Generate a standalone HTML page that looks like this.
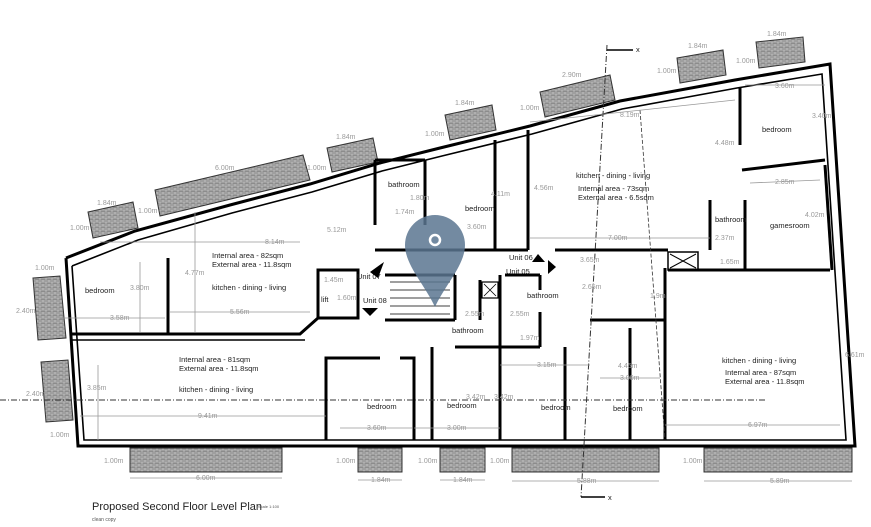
<!DOCTYPE html>
<html><head><meta charset="utf-8"><style>
html,body{margin:0;padding:0;background:#fff;}
svg{display:block;font-family:"Liberation Sans",sans-serif;}
.w{fill:none;stroke:#000;stroke-width:3;stroke-linejoin:miter}
.w2{fill:none;stroke:#000;stroke-width:1.6}
.d{stroke:#999;stroke-width:0.8;fill:none}
.dt{fill:#999;font-size:7px}
.t{fill:#222;font-size:7.5px}
.h{fill:url(#hatch);stroke:#333;stroke-width:1}
</style></head><body>
<svg width="871" height="527" viewBox="0 0 871 527">
<defs>
<pattern id="hatch" width="6" height="4" patternUnits="userSpaceOnUse">
<rect width="6" height="4" fill="#8c8c8c"/>
<path d="M0 0H6M0 2H6M1 0V2M4 2V4" stroke="#d8d8d8" stroke-width="0.6"/>
</pattern>
</defs>

<!-- balconies -->
<polygon class="h" points="88,212 133,202 138,228 93,238"/>
<polygon class="h" points="155,190 303,155 310,180 160,216"/>
<polygon class="h" points="327,148 373,138 378,162 332,172"/>
<polygon class="h" points="445,115 492,105 496,130 450,140"/>
<polygon class="h" points="540,92 610,75 615,100 545,117"/>
<polygon class="h" points="677,58 723,50 726,75 680,83"/>
<polygon class="h" points="756,42 803,37 805,62 759,68"/>
<polygon class="h" points="33,278 60,276 66,338 38,340"/>
<polygon class="h" points="41,362 68,360 73,420 46,422"/>
<rect class="h" x="130" y="448" width="152" height="24"/>
<rect class="h" x="358" y="448" width="44" height="24"/>
<rect class="h" x="440" y="448" width="45" height="24"/>
<rect class="h" x="512" y="448" width="147" height="24"/>
<rect class="h" x="704" y="448" width="148" height="24"/>

<!-- outer walls -->
<polyline class="w" points="66,258 135,231 230,205 310,184 380,163 440,148 530,126 620,101 735,80 830,64 855,446 78,446 66,258"/>
<polyline class="w2" points="72,266 138,240 232,213 312,192 382,171 442,156 532,134 622,109 737,88 822,74 846,440 84,440 72,266"/>

<!-- interior walls -->
<polyline class="w" points="70,334 300,334 318,318"/>
<line class="w2" x1="70" y1="340" x2="305" y2="340"/>
<line class="w" x1="168" y1="258" x2="168" y2="334"/>
<polyline class="w" points="318,318 318,270 358,270 358,318 318,318"/>
<line class="w" x1="375" y1="250" x2="528" y2="250"/>
<line class="w" x1="555" y1="250" x2="668" y2="250"/>
<line class="w" x1="668" y1="270" x2="830" y2="270"/>
<rect x="668" y="252" width="30" height="18" fill="none" stroke="#000" stroke-width="1.5"/>
<path d="M670 254L696 268M696 254L670 268" stroke="#000" stroke-width="1"/>
<line class="w" x1="385" y1="275" x2="455" y2="275"/>
<line class="w" x1="455" y1="275" x2="455" y2="320"/>
<line class="w" x1="385" y1="320" x2="455" y2="320"/>
<path d="M390 282H450M390 290H450M390 298H450M390 306H450M390 314H450" stroke="#000" stroke-width="0.8"/>
<line class="w" x1="375" y1="160" x2="375" y2="225"/>
<line class="w" x1="375" y1="160" x2="425" y2="160"/>
<line class="w" x1="425" y1="160" x2="425" y2="225"/>
<line class="w" x1="528" y1="130" x2="528" y2="250"/>
<line class="w" x1="495" y1="140" x2="495" y2="250"/>
<line class="w" x1="740" y1="88" x2="740" y2="145"/>
<line class="w" x1="742" y1="170" x2="825" y2="160"/>
<line class="w" x1="745" y1="200" x2="745" y2="270"/>
<line class="w" x1="710" y1="200" x2="710" y2="250"/>
<line class="w" x1="825" y1="165" x2="832" y2="270"/>
<line class="w" x1="500" y1="275" x2="500" y2="440"/>
<line class="w" x1="505" y1="275" x2="540" y2="275"/>
<line class="w" x1="540" y1="275" x2="540" y2="290"/>
<line class="w" x1="540" y1="312" x2="540" y2="347"/>
<line class="w" x1="455" y1="347" x2="540" y2="347"/>
<line class="w" x1="480" y1="280" x2="480" y2="320"/>
<rect x="482" y="282" width="16" height="16" fill="none" stroke="#000" stroke-width="1.2"/>
<path d="M484 284L496 296M496 284L484 296" stroke="#000" stroke-width="0.8"/>
<polyline class="w" points="326,440 326,358 380,358"/>
<polyline class="w" points="400,358 414,358 414,440"/>
<polyline class="w" points="432,347 432,440"/>
<polyline class="w" points="565,347 565,440"/>
<polyline class="w" points="590,320 665,320 665,440"/>
<polyline class="w" points="665,268 665,320"/>
<line class="w" x1="630" y1="328" x2="630" y2="440"/>

<!-- dashed lines -->
<line x1="0" y1="400" x2="765" y2="400" stroke="#333" stroke-width="1" stroke-dasharray="6,2,1,2"/>
<line x1="607" y1="45" x2="581" y2="497" stroke="#333" stroke-width="1" stroke-dasharray="6,2,1,2"/>
<line x1="607" y1="50" x2="633" y2="50" stroke="#000" stroke-width="1.5"/>
<text x="636" y="52" class="t" font-size="9">x</text>
<line x1="581" y1="497" x2="605" y2="497" stroke="#000" stroke-width="1.5"/>
<text x="608" y="500" class="t" font-size="9">x</text>
<line x1="640" y1="110" x2="665" y2="440" stroke="#333" stroke-width="0.8" stroke-dasharray="4,2"/>

<!-- dims -->
<line class="d" x1="100" y1="242" x2="300" y2="242"/><text class="dt" x="265" y="244">8.14m</text>
<line class="d" x1="60" y1="318" x2="165" y2="318"/><text class="dt" x="110" y="320">3.58m</text>
<line class="d" x1="170" y1="312" x2="310" y2="312"/><text class="dt" x="230" y="314">5.56m</text>
<line class="d" x1="140" y1="262" x2="140" y2="332"/><text class="dt" x="130" y="290">3.80m</text>
<line class="d" x1="195" y1="212" x2="195" y2="332"/><text class="dt" x="185" y="275">4.77m</text>
<line class="d" x1="98" y1="365" x2="98" y2="440"/><text class="dt" x="87" y="390">3.85m</text>
<line class="d" x1="80" y1="416" x2="326" y2="416"/><text class="dt" x="198" y="418">9.41m</text>
<line class="d" x1="340" y1="428" x2="412" y2="428"/><text class="dt" x="367" y="430">3.60m</text>
<line class="d" x1="414" y1="428" x2="500" y2="428"/><text class="dt" x="447" y="430">3.00m</text>
<line class="d" x1="500" y1="365" x2="590" y2="365"/><text class="dt" x="537" y="367">3.15m</text>
<line class="d" x1="600" y1="378" x2="660" y2="378"/><text class="dt" x="620" y="380">3.00m</text>
<line class="d" x1="665" y1="425" x2="840" y2="425"/><text class="dt" x="748" y="427">6.97m</text>
<line class="d" x1="530" y1="238" x2="710" y2="238"/><text class="dt" x="608" y="240">7.00m</text>
<line class="d" x1="530" y1="122" x2="735" y2="100"/><text class="dt" x="620" y="117">8.19m</text>
<line class="d" x1="745" y1="85" x2="825" y2="85"/><text class="dt" x="775" y="88">3.60m</text>
<line class="d" x1="750" y1="183" x2="820" y2="180"/><text class="dt" x="775" y="184">2.85m</text>
<text class="dt" x="812" y="118">3.40m</text>
<text class="dt" x="715" y="145">4.48m</text>
<text class="dt" x="805" y="217">4.02m</text>
<text class="dt" x="845" y="357">6.61m</text>
<text class="dt" x="534" y="190">4.56m</text>
<text class="dt" x="491" y="196">4.11m</text>
<text class="dt" x="467" y="229">3.60m</text>
<text class="dt" x="715" y="240">2.37m</text>
<text class="dt" x="720" y="264">1.65m</text>
<text class="dt" x="580" y="262">3.65m</text>
<text class="dt" x="582" y="289">2.65m</text>
<text class="dt" x="650" y="298">1.9m</text>
<text class="dt" x="618" y="368">4.45m</text>
<text class="dt" x="465" y="316">2.55m</text>
<text class="dt" x="510" y="316">2.55m</text>
<text class="dt" x="520" y="340">1.97m</text>
<text class="dt" x="466" y="399">3.42m</text>
<text class="dt" x="494" y="399">3.42m</text>
<text class="dt" x="395" y="214">1.74m</text>
<text class="dt" x="410" y="200">1.80m</text>
<text class="dt" x="327" y="232">5.12m</text>
<text class="dt" x="97" y="205">1.84m</text>
<text class="dt" x="215" y="170">6.00m</text>
<text class="dt" x="336" y="139">1.84m</text>
<text class="dt" x="455" y="105">1.84m</text>
<text class="dt" x="562" y="77">2.90m</text>
<text class="dt" x="688" y="48">1.84m</text>
<text class="dt" x="767" y="36">1.84m</text>
<text class="dt" x="70" y="230">1.00m</text>
<text class="dt" x="138" y="213">1.00m</text>
<text class="dt" x="307" y="170">1.00m</text>
<text class="dt" x="425" y="136">1.00m</text>
<text class="dt" x="520" y="110">1.00m</text>
<text class="dt" x="657" y="73">1.00m</text>
<text class="dt" x="736" y="63">1.00m</text>
<text class="dt" x="35" y="270">1.00m</text>
<text class="dt" x="16" y="313">2.40m</text>
<text class="dt" x="26" y="396">2.40m</text>
<text class="dt" x="50" y="437">1.00m</text>
<text class="dt" x="104" y="463">1.00m</text>
<text class="dt" x="336" y="463">1.00m</text>
<text class="dt" x="418" y="463">1.00m</text>
<text class="dt" x="490" y="463">1.00m</text>
<text class="dt" x="683" y="463">1.00m</text>
<line class="d" x1="130" y1="478" x2="282" y2="478"/><text class="dt" x="196" y="480">6.00m</text>
<line class="d" x1="358" y1="480" x2="402" y2="480"/><text class="dt" x="371" y="482">1.84m</text>
<line class="d" x1="440" y1="480" x2="485" y2="480"/><text class="dt" x="453" y="482">1.84m</text>
<line class="d" x1="512" y1="481" x2="659" y2="481"/><text class="dt" x="577" y="483">5.88m</text>
<line class="d" x1="704" y1="481" x2="852" y2="481"/><text class="dt" x="770" y="483">5.89m</text>
<text class="dt" x="324" y="282">1.45m</text>
<text class="dt" x="337" y="300">1.60m</text>

<!-- room labels -->
<text class="t" x="85" y="293">bedroom</text>
<text class="t" x="212" y="258">Internal area - 82sqm</text>
<text class="t" x="212" y="267">External area - 11.8sqm</text>
<text class="t" x="212" y="290">kitchen - dining - living</text>
<text class="t" x="179" y="362">Internal area - 81sqm</text>
<text class="t" x="179" y="371">External area - 11.8sqm</text>
<text class="t" x="179" y="392">kitchen - dining - living</text>
<text class="t" x="388" y="187">bathroom</text>
<text class="t" x="465" y="211">bedroom</text>
<text class="t" x="576" y="178">kitchen - dining - living</text>
<text class="t" x="578" y="191">Internal area - 73sqm</text>
<text class="t" x="578" y="200">External area - 6.5sqm</text>
<text class="t" x="762" y="132">bedroom</text>
<text class="t" x="715" y="222">bathroom</text>
<text class="t" x="770" y="228">gamesroom</text>
<text class="t" x="527" y="298">bathroom</text>
<text class="t" x="452" y="333">bathroom</text>
<text class="t" x="321" y="302">lift</text>
<text class="t" x="357" y="279">Unit 07</text>
<text class="t" x="363" y="303">Unit 08</text>
<text class="t" x="509" y="260">Unit 06</text>
<text class="t" x="506" y="274">Unit 05</text>
<text class="t" x="367" y="409">bedroom</text>
<text class="t" x="447" y="408">bedroom</text>
<text class="t" x="541" y="410">bedroom</text>
<text class="t" x="613" y="411">bedroom</text>
<text class="t" x="722" y="363">kitchen - dining - living</text>
<text class="t" x="725" y="375">Internal area - 87sqm</text>
<text class="t" x="725" y="384">External area - 11.8sqm</text>
<polygon points="370,272 384,262 378,278" fill="#000"/>
<polygon points="362,308 378,308 370,316" fill="#000"/>
<polygon points="532,262 545,262 538,254" fill="#000"/>
<polygon points="548,260 556,267 548,274" fill="#000"/>

<!-- pin -->
<path d="M435 215a30 30 0 0 1 30 30c0 20-20 40-30 62c-10-22-30-42-30-62a30 30 0 0 1 30-30z" fill="#5b7590" opacity="0.85"/>
<circle cx="435" cy="240" r="5" fill="none" stroke="#fff" stroke-width="2.5"/>

<!-- title -->
<text x="92" y="510" fill="#222" font-size="11">Proposed Second Floor Level Plan</text>
<text x="258" y="508" fill="#555" font-size="4">Scale 1:100</text>
<text x="92" y="521" fill="#555" font-size="5">clean copy</text>
</svg>
</body></html>
